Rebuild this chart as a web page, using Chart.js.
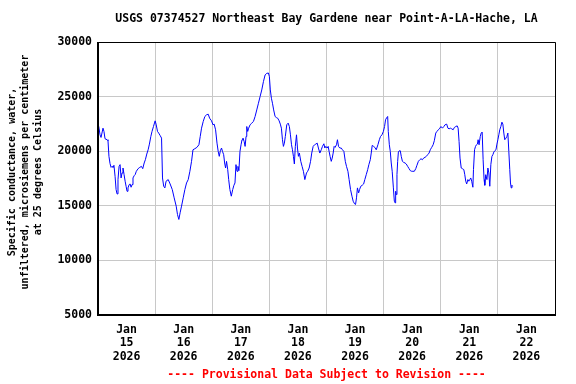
<!DOCTYPE html>
<html>
<head>
<meta charset="utf-8">
<title>USGS 07374527 Specific conductance</title>
<script src="https://cdn.jsdelivr.net/npm/chart.js@4.4.1/dist/chart.umd.min.js"></script>
<style>
  html, body { margin: 0; padding: 0; background: #fff; }
  canvas { display: block; }
</style>
</head>
<body>
<canvas id="conductanceChart" width="576" height="384"></canvas>
<script>
const chartTitle = 'USGS 07374527 Northeast Bay Gardene near Point-A-LA-Hache, LA';
const yAxisTitle = [
  'Specific conductance, water,',
  'unfiltered, microsiemens per centimeter',
  'at 25 degrees Celsius'
];
const footerText = '---- Provisional Data Subject to Revision ----';

// Day labels sit at noon of each day; the axis runs Jan 15 00:00 to Jan 23 00:00 (hours).
const dayLabels = [
  ['Jan', '15', '2026'], ['Jan', '16', '2026'], ['Jan', '17', '2026'], ['Jan', '18', '2026'],
  ['Jan', '19', '2026'], ['Jan', '20', '2026'], ['Jan', '21', '2026'], ['Jan', '22', '2026']
];
const yTickValues = [5000, 10000, 15000, 20000, 25000, 30000];

// Hours since Jan 15 2026 00:00
const hours = [
  0.0, 0.43, 0.85, 1.27, 2.1, 2.5, 2.96, 3.8, 4.2, 4.6, 5.06, 5.5, 5.9, 6.3, 6.7, 7.17, 7.6, 8.0, 8.4, 8.85,
  9.27, 9.7, 10.1, 10.5, 10.96, 11.4, 11.8, 12.2, 12.6, 13.1, 13.5, 13.9, 14.3, 14.7, 15.2, 15.6, 16.1, 16.85, 17.55, 18.25,
  18.8, 19.4, 19.9, 20.5, 21.06, 21.6, 22.2, 22.7, 23.3, 24.0, 24.4, 25.0, 25.5, 26.1, 26.7, 27.1, 27.6, 28.1, 28.6, 29.5,
  30.3, 31.2, 32.0, 32.85, 33.4, 33.97, 34.5, 35.1, 35.8, 36.5, 37.2, 37.9, 38.6, 39.3, 39.9, 40.7, 41.55, 42.4, 42.95, 43.5,
  44.2, 44.9, 45.6, 46.3, 46.9, 47.7, 48.3, 48.8, 49.4, 50.0, 50.5, 50.95, 51.4, 51.9, 52.3, 52.8, 53.2, 53.6, 54.0, 54.5,
  54.9, 55.4, 56.0, 56.6, 57.1, 57.55, 57.97, 58.4, 58.8, 59.2, 59.65, 60.1, 60.5, 60.9, 61.4, 61.8, 62.2, 62.5, 62.9, 63.3,
  63.9, 64.6, 65.3, 66.0, 66.7, 67.4, 68.1, 68.8, 69.5, 70.2, 70.9, 71.6, 72.0, 72.4, 72.85, 73.3, 73.8, 74.4, 74.95, 75.5,
  76.1, 76.6, 77.05, 77.5, 77.9, 78.3, 78.7, 79.3, 79.9, 80.4, 80.85, 81.3, 81.7, 82.1, 82.5, 82.9, 83.4, 83.8, 84.2, 84.6,
  85.2, 85.75, 86.3, 86.9, 87.6, 88.1, 88.7, 89.3, 89.8, 90.4, 91.0, 91.5, 92.1, 92.6, 93.2, 93.8, 94.3, 94.9, 95.3, 95.7,
  96.3, 96.7, 97.1, 97.5, 98.0, 98.4, 98.8, 99.2, 99.6, 100.2, 100.6, 101.05, 101.6, 102.2, 102.7, 103.3, 103.9, 104.4, 105.0, 105.5,
  106.1, 106.7, 107.2, 107.8, 108.2, 108.6, 109.0, 109.5, 109.9, 110.4, 111.0, 111.6, 112.1, 112.7, 113.3, 113.8, 114.4, 114.8, 115.2, 115.8,
  116.3, 116.9, 117.6, 118.2, 118.7, 119.3, 119.9, 120.4, 120.8, 121.3, 121.7, 121.96, 122.4, 122.8, 123.2, 123.6, 124.1, 124.5, 124.8, 125.05,
  125.3, 125.6, 125.9, 126.2, 126.6, 127.0, 127.4, 127.9, 128.4, 129.0, 129.5, 130.1, 130.7, 131.2, 131.8, 132.3, 132.9, 133.5, 134.0, 134.6,
  135.2, 135.7, 136.3, 136.8, 137.4, 137.96, 138.5, 139.1, 139.6, 140.2, 140.8, 141.3, 141.9, 142.4, 143.0, 143.6, 144.1, 144.7, 145.3, 145.8,
  146.5, 147.0, 147.5, 148.1, 148.6, 149.2, 149.7, 150.3, 150.9, 151.3, 151.7, 152.1, 152.6, 153.1, 153.7, 154.1, 154.5, 154.9, 155.4, 155.8,
  156.2, 156.6, 157.0, 157.5, 157.75, 158.2, 158.6, 159.0, 159.4, 159.7, 160.1, 160.6, 161.0, 161.4, 161.8, 162.2, 162.5, 162.9, 163.4, 163.8,
  164.2, 164.6, 165.04, 165.5, 165.9, 166.3, 166.7, 167.2, 167.6, 168.0, 168.4, 168.8, 169.25, 169.7, 170.1, 170.5, 170.9, 171.4, 171.8, 172.2,
  172.6, 173.0, 173.3, 173.6, 173.9, 174.2
];

// Specific conductance, uS/cm at 25 C
const conductance = [
  22570, 22110, 21500, 21260, 22110, 21810, 21140, 21050, 20960, 19530, 18860, 18520, 18610, 18520, 18710, 17700, 16490, 16090, 17400, 18610,
  18770, 17550, 18010, 18460, 17850, 17250, 16790, 16330, 16640, 16940, 17000, 16700, 16940, 17550, 17760, 17850, 18160, 18400, 18520, 18610,
  18400, 18920, 19220, 19740, 20130, 20650, 21350, 21810, 22260, 22780, 22480, 21810, 21660, 21440, 21200, 17550, 16790, 16640, 17250, 17400,
  17000, 16490, 15730, 14970, 14200, 13750, 14360, 14970, 15730, 16490, 17090, 17400, 18160, 19070, 20130, 20230, 20350, 20590, 21350, 22110,
  22720, 23180, 23330, 23390, 23020, 22780, 22420, 22480, 21960, 20740, 19980, 19530, 20040, 20290, 19980, 19680, 18920, 18460, 19070, 18310,
  17400, 16490, 15880, 16490, 16880, 17090, 18770, 18160, 18610, 18220, 19980, 20590, 21050, 21200, 20890, 20440, 21350, 22260, 21810, 22110,
  22420, 22570, 22720, 23180, 23780, 24390, 25000, 25610, 26370, 26980, 27130, 27160, 26830, 25610, 24850, 24390, 23780, 23180, 23080, 23020,
  22780, 22480, 22110, 21050, 20440, 20740, 21350, 22420, 22570, 22260, 21500, 20590, 20130, 19530, 18830, 20440, 21500, 20290, 19530, 19830,
  19070, 18610, 18160, 17400, 18010, 18160, 18460, 19070, 19830, 20440, 20590, 20650, 20740, 20290, 19830, 20130, 20440, 20680, 20290, 20440,
  20290, 20440, 19980, 19530, 19070, 19370, 19830, 20440, 20350, 20590, 21050, 20440, 20290, 20290, 20130, 19980, 19070, 18610, 18160, 17400,
  16490, 15880, 15420, 15180, 15120, 15730, 16640, 16180, 16490, 16790, 16880, 17000, 17400, 17850, 18310, 18770, 19220, 19830, 20530, 20440,
  20350, 20130, 20590, 21050, 21350, 21500, 21810, 22260, 22870, 23080, 23180, 21810, 20590, 19980, 18920, 18160, 16640, 15420, 15270, 16330,
  16030, 17850, 19070, 19920, 20040, 20040, 19530, 19070, 18980, 18920, 18830, 18610, 18400, 18220, 18160, 18160, 18160, 18400, 18710, 19070,
  19220, 19310, 19220, 19370, 19440, 19530, 19680, 19830, 20130, 20350, 20590, 20960, 21660, 21810, 21960, 22110, 22260, 22110, 22260, 22420,
  22480, 22110, 22050, 22110, 22050, 21960, 22170, 22260, 22320, 22110, 20890, 19370, 18460, 18400, 18310, 17850, 17250, 17000, 17400, 17250,
  17400, 17550, 17250, 16700, 18310, 20130, 20440, 20590, 20650, 21050, 20590, 21350, 21660, 21750, 19220, 17400, 16880, 17850, 17400, 18460,
  18010, 16790, 18770, 19530, 19680, 19920, 20040, 20130, 20650, 21050, 21500, 21960, 22260, 22660, 22480, 21660, 21050, 21200, 21350, 21660,
  19980, 18310, 17090, 16640, 16880, 16790
];

const monoFont = '"DejaVu Sans Mono", "Liberation Mono", monospace';

// Title, rotated y-axis title, footer and the plot frame, all placed from the chart area.
const usgsDecorations = {
  id: 'usgsDecorations',
  afterDraw(chart) {
    const { ctx, chartArea } = chart;
    const centerX = (chartArea.left + chartArea.right) / 2;

    ctx.save();
    ctx.fillStyle = '#000';
    ctx.textAlign = 'center';
    ctx.textBaseline = 'middle';
    ctx.font = `bold 11.5px ${monoFont}`;
    ctx.fillText(chartTitle, centerX, 19);

    ctx.fillStyle = '#ff0000';
    ctx.fillText(footerText, centerX, 375);

    ctx.fillStyle = '#000';
    ctx.font = `bold 10px ${monoFont}`;
    yAxisTitle.forEach((line, index) => {
      ctx.save();
      ctx.translate(12 + index * 13, 172);
      ctx.rotate(-Math.PI / 2);
      ctx.fillText(line, 0, 0);
      ctx.restore();
    });

    ctx.strokeStyle = '#000';
    ctx.lineWidth = 1;
    ctx.beginPath();
    ctx.moveTo(chartArea.left, chartArea.top + 0.5);
    ctx.lineTo(chartArea.right + 0.5, chartArea.top + 0.5);
    ctx.lineTo(chartArea.right + 0.5, chartArea.bottom);
    ctx.stroke();
    ctx.lineWidth = 2;
    ctx.beginPath();
    ctx.moveTo(chartArea.left, chartArea.top);
    ctx.lineTo(chartArea.left, chartArea.bottom);
    ctx.lineTo(chartArea.right + 1, chartArea.bottom);
    ctx.stroke();
    ctx.restore();
  }
};

const points = hours.map((hour, index) => ({ x: hour, y: conductance[index] }));

new Chart(document.getElementById('conductanceChart'), {
  type: 'line',
  data: {
    datasets: [{
      data: points,
      borderColor: '#0000ff',
      borderWidth: 1,
      pointRadius: 0,
      tension: 0,
      fill: false
    }]
  },
  options: {
    responsive: false,
    animation: false,
    layout: { padding: { top: 42, right: 21, left: 0, bottom: 0 } },
    plugins: {
      legend: { display: false },
      tooltip: { enabled: false }
    },
    scales: {
      x: {
        type: 'linear',
        min: 0,
        max: 192,
        afterFit: (scale) => { scale.height = 69; },
        afterBuildTicks: (scale) => {
          scale.ticks = Array.from({ length: 17 }, (_, i) => ({ value: i * 12 }));
        },
        grid: {
          drawTicks: false,
          color: (ctx) => (ctx.tick && ctx.tick.value % 24 === 0 ? '#c8c8c8' : 'rgba(0,0,0,0)'),
          lineWidth: 1
        },
        border: { display: false },
        ticks: {
          autoSkip: false,
          maxRotation: 0,
          minRotation: 0,
          padding: 8,
          color: '#000',
          font: { family: monoFont, size: 11.5, weight: 'bold', lineHeight: 1.17 },
          callback: (value) => (value % 24 === 12 ? dayLabels[(value - 12) / 24] : '')
        }
      },
      y: {
        min: 5000,
        max: 30000,
        afterFit: (scale) => { scale.width = 98; },
        afterBuildTicks: (scale) => {
          scale.ticks = yTickValues.map((value) => ({ value }));
        },
        grid: { drawTicks: false, color: '#c8c8c8', lineWidth: 1 },
        border: { display: false },
        ticks: {
          padding: 6,
          color: '#000',
          font: { family: monoFont, size: 11.5, weight: 'bold' },
          callback: (value) => String(value)
        }
      }
    }
  },
  plugins: [usgsDecorations]
});
</script>
</body>
</html>
